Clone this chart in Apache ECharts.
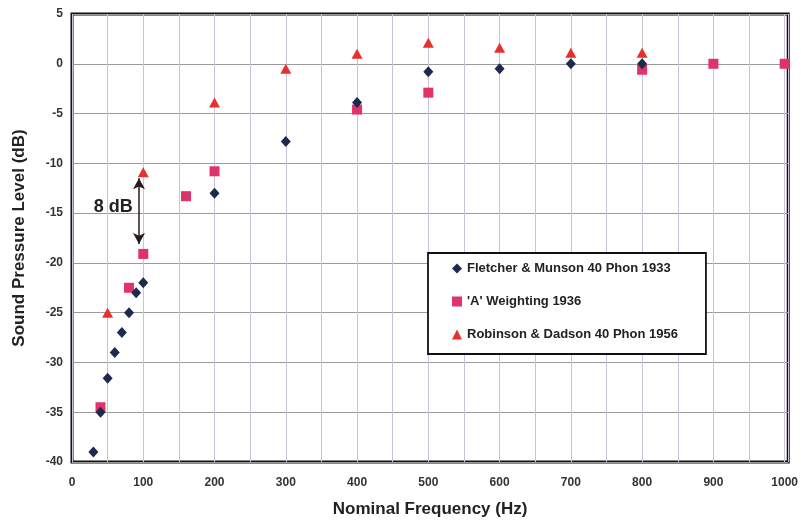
<!DOCTYPE html>
<html>
<head>
<meta charset="utf-8">
<script src="https://cdn.jsdelivr.net/npm/echarts@6/dist/echarts.min.js"></script>
<style>
html,body{margin:0;padding:0;background:#fff;}
#c{width:801px;height:523px;}
</style>
</head>
<body>
<div id="c"></div>
<script>
// Fletcher & Munson 40 Phon 1933
var fmFreq = [30, 40, 50, 60, 70, 80, 90, 100, 200, 300, 400, 500, 600, 700, 800];
var fmDb   = [-39, -35, -31.6, -29, -27, -25, -23, -22, -13, -7.8, -3.9, -0.8, -0.5, 0, 0];
// 'A' Weighting 1936
var awFreq = [40, 80, 100, 160, 200, 400, 500, 800, 900, 1000];
var awDb   = [-34.5, -22.5, -19.1, -13.3, -10.8, -4.6, -2.9, -0.6, 0, 0];
// Robinson & Dadson 40 Phon 1956
var rdFreq = [50, 100, 200, 300, 400, 500, 600, 700, 800];
var rdDb   = [-25, -10.9, -3.9, -0.5, 1.0, 2.1, 1.6, 1.1, 1.1];

var seriesNames = ['Fletcher & Munson 40 Phon 1933', "'A' Weighting 1936", 'Robinson & Dadson 40 Phon 1956'];
var xTicks = [0, 100, 200, 300, 400, 500, 600, 700, 800, 900, 1000];
var yTicks = [-40, -35, -30, -25, -20, -15, -10, -5, 0, 5];

// annotation "8 dB" (data coordinates)
var arrowFrom = [94, -11.5];
var arrowTo   = [94, -18.1];
var noteText  = '8 dB';
var notePos   = [58, -14.4];

function pairs(xs, ys) { return xs.map(function (x, i) { return [x, ys[i]]; }); }

var chart = echarts.init(document.getElementById('c'), null, {renderer: 'canvas'});
var bold = 'Liberation Sans, Arial, sans-serif';

chart.setOption({
  backgroundColor: '#ffffff',
  animation: false,
  grid: {left: 72, top: 14, right: 8, bottom: 60, show: true, borderColor: '#111', borderWidth: 3, backgroundColor: 'transparent'},
  xAxis: {
    type: 'value', min: 0, max: 1005, interval: 50,
    name: 'Nominal Frequency (Hz)', nameLocation: 'middle', nameGap: 39,
    nameTextStyle: {fontFamily: bold, fontWeight: 'bold', fontSize: 17, color: '#222'},
    axisLine: {show: false}, axisTick: {show: false},
    axisLabel: {
      fontFamily: bold, fontWeight: 'bold', fontSize: 12, color: '#333', margin: 15,
      showMaxLabel: false,
      formatter: function (v) { return xTicks.indexOf(v) >= 0 ? String(v) : ''; }
    },
    splitLine: {show: true, lineStyle: {color: '#cbc2da', width: 1}}
  },
  yAxis: {
    type: 'value', min: -40, max: 5, interval: 5,
    name: 'Sound Pressure Level (dB)', nameLocation: 'middle', nameGap: 44, nameRotate: 90,
    nameTextStyle: {fontFamily: bold, fontWeight: 'bold', fontSize: 17, color: '#222'},
    axisLine: {show: false}, axisTick: {show: false},
    axisLabel: {fontFamily: bold, fontWeight: 'bold', fontSize: 12, color: '#333', margin: 9,
      formatter: function (v) { return yTicks.indexOf(v) >= 0 ? String(v) : ''; }},
    splitLine: {show: true, lineStyle: {color: '#9a9a9a', width: 1}}
  },
  legend: {
    orient: 'vertical', left: 428, top: 253,
    padding: [8, 28, 12, 24], itemGap: 18, itemWidth: 10, itemHeight: 10,
    backgroundColor: '#fff', borderColor: '#111', borderWidth: 1.8,
    textStyle: {fontFamily: bold, fontWeight: 'bold', fontSize: 13, color: '#222', lineHeight: 15},
    data: [
      {name: seriesNames[0], icon: 'diamond'},
      {name: seriesNames[1], icon: 'rect'},
      {name: seriesNames[2], icon: 'triangle'}
    ]
  },
  series: [
    {
      name: seriesNames[0], type: 'scatter', symbol: 'diamond', symbolSize: [10, 11],
      itemStyle: {color: '#1c2a4d', opacity: 1}, data: pairs(fmFreq, fmDb), z: 3
    },
    {
      name: seriesNames[1], type: 'scatter', symbol: 'rect', symbolSize: [10, 10],
      itemStyle: {color: '#e0336a', opacity: 1}, data: pairs(awFreq, awDb), z: 2
    },
    {
      name: seriesNames[2], type: 'scatter', symbol: 'triangle', symbolSize: [11, 10],
      itemStyle: {color: '#e6302c', opacity: 1}, data: pairs(rdFreq, rdDb), z: 2,
      markLine: {
        silent: true, symbol: ['arrow', 'arrow'], symbolSize: [9, 11],
        lineStyle: {color: '#2a1a1a', width: 1.5, type: 'solid'},
        label: {show: false},
        data: [[{coord: arrowFrom}, {coord: arrowTo}]]
      },
      markPoint: {
        silent: true, symbol: 'circle', symbolSize: 1,
        itemStyle: {color: 'rgba(0,0,0,0)'},
        label: {show: true, position: 'inside', formatter: noteText,
          fontFamily: bold, fontWeight: 'bold', fontSize: 18, color: '#222'},
        data: [{coord: notePos}]
      }
    }
  ]
});
</script>
</body>
</html>
